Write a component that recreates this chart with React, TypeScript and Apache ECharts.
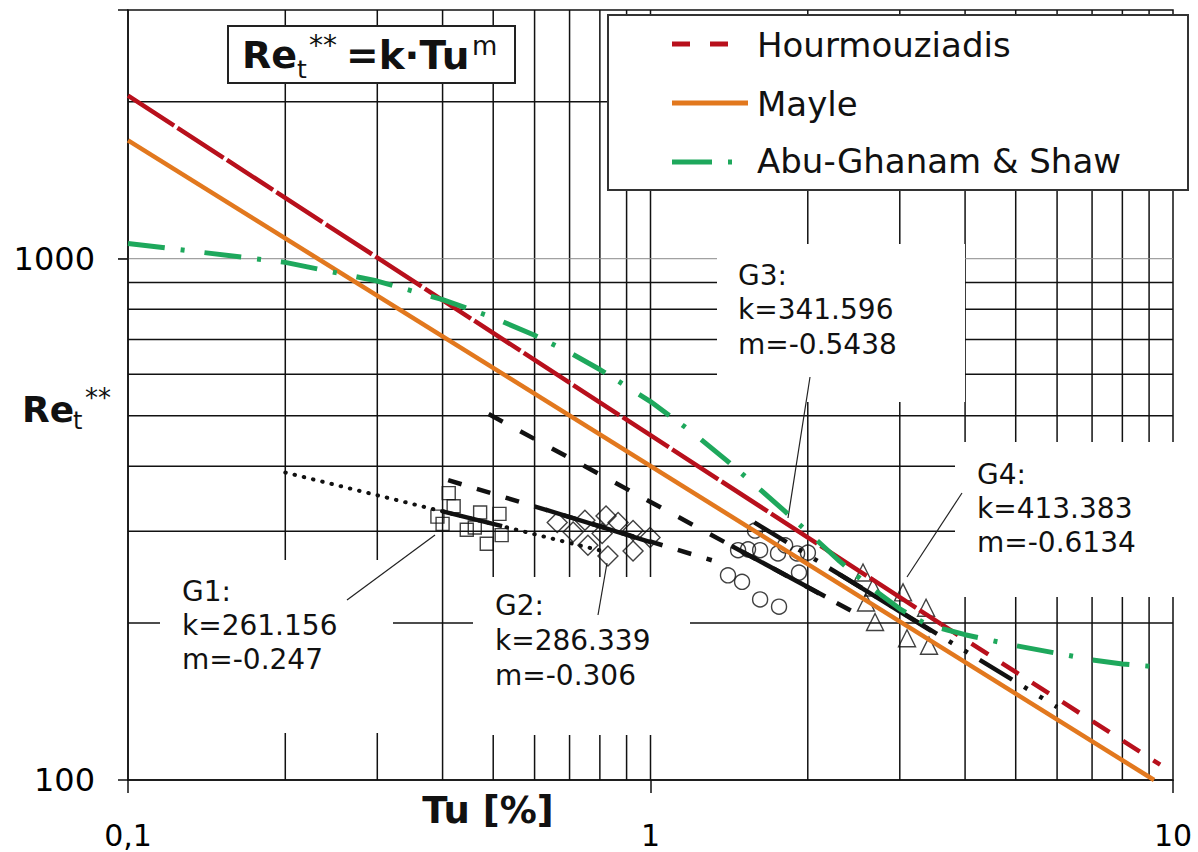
import React, { useEffect, useRef } from 'react';
import * as echarts from 'echarts';

// Axis ranges
const X_MIN = 0.1;
const X_MAX = 10;
const Y_MIN = 100;
const Y_MAX = 3000;

// Grid lines (log grid)
const gridXLines = [0.2, 0.3, 0.4, 0.5, 0.6, 0.7, 0.8, 0.9, 1, 2, 3, 4, 5, 6, 7, 8, 9];
const gridYLines = [200, 300, 400, 500, 600, 700, 800, 900, 2000];
const gridYMajor = [1000];

// Correlations
const hourTuA = [0.1, 3.6];
const hourReA = [2055, 199];
const hourTuB = [3.6, 9.45];
const hourReB = [199, 107];
const mayleTu = [0.1, 9.2];
const mayleRe = [1687, 100];
const agsTu = [0.1, 0.2, 0.3, 0.4, 0.5, 0.6, 0.7, 0.8, 1.0, 1.2, 1.4, 1.6, 1.8, 2.0, 2.3, 2.6, 3.0, 3.4, 3.7, 4.0, 5.0, 6.0, 7.0, 8.0, 9.2];
const agsRe = [1070, 984, 906, 835, 771, 713, 661, 613, 532, 465, 410, 365, 329, 299, 263, 237, 213, 198, 194, 190, 181, 175, 170, 167, 165];

// Regression lines
const g1DotTu = [0.2, 0.82];
const g1DotRe = [389, 274];
const g1SolTu = [0.4, 0.52];
const g1SolRe = [327.5, 307];
const g2DashTu = [0.41, 1.31];
const g2DashRe = [376, 264];
const g2SolTu = [0.63, 1.0];
const g2SolRe = [330, 286];
const g3DashTu = [0.49, 2.5];
const g3DashRe = [503.5, 207.5];
const g3SolTu = [1.43, 2.16];
const g3SolRe = [281, 225];
const g4DashTu = [1.58, 6.0];
const g4DashRe = [312, 138];
const g4SolTu = [2.3, 3.45];
const g4SolRe = [248, 193];

// Measurement points
const g1PtTu = [0.411, 0.42, 0.391, 0.4, 0.472, 0.514, 0.445, 0.461, 0.519, 0.486];
const g1PtRe = [355, 335, 320, 310, 326, 324, 302, 305, 295, 284];
const g2PtTu = [0.663, 0.711, 0.749, 0.759, 0.822, 0.808, 0.867, 0.829, 0.926, 0.926, 0.998];
const g2PtRe = [312, 299, 315, 282, 321, 297, 312, 269, 275, 301, 292];
const g3PtTu = [1.585, 1.471, 1.537, 1.621, 1.754, 1.81, 1.908, 2.001, 1.924, 1.407, 1.497, 1.621, 1.762];
const g3PtRe = [301, 276, 277, 276, 272, 282, 272, 273, 250, 247, 240, 222, 215];
const g4PtTu = [2.551, 2.666, 2.585, 2.69, 3.043, 3.368, 3.097, 3.412];
const g4PtRe = [250, 234, 219, 201, 229, 214, 187, 181];

// Texts
const legendNames = ['Hourmouziadis', 'Mayle', 'Abu-Ghanam & Shaw'];
const xTickLabels: Record<string, string> = { '0.1': '0,1', '1': '1', '10': '10' };
const yTickLabels: Record<string, string> = { '100': '100', '1000': '1000' };
const g1Text = 'G1:\nk=261.156\nm=-0.247';
const g2Text = 'G2:\nk=286.339\nm=-0.306';
const g3Text = 'G3:\nk=341.596\nm=-0.5438';
const g4Text = 'G4:\nk=413.383\nm=-0.6134';

const RED = '#B8101C';
const ORANGE = '#E2781E';
const GREEN = '#1EA85C';
const BLACK = '#111';
const FONT = 'DejaVu Sans';

const zip = (a: number[], b: number[]) => a.map((v, i) => [v, b[i]]);

function keyOf(v: number, map: Record<string, string>) {
  for (const k of Object.keys(map)) {
    if (Math.abs(v - Number(k)) / Number(k) < 1e-6) return map[k];
  }
  return '';
}

function lineSeries(name: string, data: number[][], color: string, width: number, type: any, z = 3, cap: any = 'butt') {
  return {
    name,
    type: 'line',
    data,
    symbol: 'none',
    showSymbol: false,
    silent: true,
    z,
    lineStyle: { color, width, type, cap },
  };
}

function scatterSeries(name: string, data: number[][], symbol: string, size: number) {
  return {
    name,
    type: 'scatter',
    data,
    symbol,
    symbolSize: size,
    silent: true,
    z: 2,
    itemStyle: { color: 'rgba(255,255,255,0)', borderColor: BLACK, borderWidth: 1.4 },
  };
}

export default function App() {
  const ref = useRef<HTMLDivElement>(null);
  useEffect(() => {
    if (!ref.current) return;
    const chart = echarts.init(ref.current, undefined, { renderer: 'svg' });
    const textStyle = (text: string, x: number, y: number, size: number, weight = 'normal', align = 'left', vAlign = 'middle', lineHeight?: number) => ({
      type: 'text',
      x,
      y,
      z: 10,
      silent: true,
      style: {
        text,
        fill: BLACK,
        font: `${weight} ${size}px "${FONT}"`,
        fontFamily: FONT,
        fontSize: size,
        fontWeight: weight,
        align,
        verticalAlign: vAlign,
        textAlign: align,
        textVerticalAlign: vAlign,
        lineHeight,
      },
    });
    const mask = (x: number, y: number, w: number, h: number) => ({
      type: 'rect',
      z: 1,
      silent: true,
      shape: { x, y, width: w, height: h },
      style: { fill: '#fff' },
    });
    const pointer = (x1: number, y1: number, x2: number, y2: number) => ({
      type: 'line',
      z: 4,
      silent: true,
      shape: { x1, y1, x2, y2 },
      style: { stroke: '#222', lineWidth: 1.2 },
    });
    const legLine = (x1: number, x2: number, y: number, color: string, dash?: number[]) => ({
      type: 'line',
      z: 9,
      silent: true,
      shape: { x1, y1: y, x2, y2: y },
      style: dash ? { stroke: color, lineWidth: 5, lineDash: dash, lineCap: 'butt' } : { stroke: color, lineWidth: 5, lineCap: 'butt' },
    });

    const option: any = {
      animation: false,
      backgroundColor: '#fff',
      grid: {
        left: 128,
        top: 10,
        right: 25,
        bottom: 72,
        containLabel: false,
        outerBoundsMode: 'none',
        show: true,
        borderColor: BLACK,
        borderWidth: 1.5,
        backgroundColor: 'rgba(0,0,0,0)',
      },
      xAxis: {
        type: 'log',
        logBase: 10,
        min: X_MIN,
        max: X_MAX,
        splitLine: { show: false },
        minorTick: { show: false },
        axisLine: { show: true, onZero: false, lineStyle: { color: BLACK, width: 1.5 } },
        axisTick: { show: true, length: 13, lineStyle: { color: BLACK, width: 1.5 } },
        axisLabel: {
          show: true,
          margin: 40,
          color: '#000',
          fontFamily: FONT,
          fontSize: 30,
          lineHeight: 30,
          showMinLabel: true,
          showMaxLabel: true,
          formatter: (v: number) => keyOf(v, xTickLabels),
        },
      },
      yAxis: {
        type: 'log',
        logBase: 10,
        min: Y_MIN,
        max: Y_MAX,
        splitLine: { show: false },
        minorTick: { show: false },
        axisLine: { show: true, onZero: false, lineStyle: { color: BLACK, width: 1.5 } },
        axisTick: { show: true, length: 10, lineStyle: { color: BLACK, width: 1.5 } },
        axisLabel: {
          show: true,
          margin: 33,
          color: '#000',
          fontFamily: FONT,
          fontSize: 32,
          formatter: (v: number) => keyOf(v, yTickLabels),
        },
      },
      series: [
        {
          name: 'gridX',
          type: 'custom',
          silent: true,
          z: 0,
          data: gridXLines.map((v) => [v, Y_MIN]),
          renderItem: (_p: any, api: any) => {
            const x = api.value(0);
            const a = api.coord([x, Y_MIN]);
            const b = api.coord([x, Y_MAX]);
            return { type: 'line', shape: { x1: a[0], y1: a[1], x2: b[0], y2: b[1] }, style: { stroke: BLACK, lineWidth: 1.5 } };
          },
        },
        {
          name: 'gridY',
          type: 'custom',
          silent: true,
          z: 0,
          data: gridYLines.map((v) => [X_MIN, v]),
          renderItem: (_p: any, api: any) => {
            const y = api.value(1);
            const a = api.coord([X_MIN, y]);
            const b = api.coord([X_MAX, y]);
            return { type: 'line', shape: { x1: a[0], y1: a[1], x2: b[0], y2: b[1] }, style: { stroke: BLACK, lineWidth: 1.5 } };
          },
        },
        {
          name: 'gridYMajor',
          type: 'custom',
          silent: true,
          z: 0,
          data: gridYMajor.map((v) => [X_MIN, v]),
          renderItem: (_p: any, api: any) => {
            const y = api.value(1);
            const a = api.coord([X_MIN, y]);
            const b = api.coord([X_MAX, y]);
            return { type: 'line', shape: { x1: a[0] - 10, y1: a[1], x2: b[0], y2: b[1] }, style: { stroke: '#8a8a8a', lineWidth: 1 } };
          },
        },
        scatterSeries('G1 data', zip(g1PtTu, g1PtRe), 'rect', 13),
        scatterSeries('G2 data', zip(g2PtTu, g2PtRe), 'diamond', 20),
        scatterSeries('G3 data', zip(g3PtTu, g3PtRe), 'circle', 15),
        scatterSeries('G4 data', zip(g4PtTu, g4PtRe), 'triangle', 17),
        lineSeries('G1 fit ext', zip(g1DotTu, g1DotRe), BLACK, 4, [0.5, 9], 3, 'round'),
        lineSeries('G1 fit', zip(g1SolTu, g1SolRe), BLACK, 4.5, 'solid'),
        lineSeries('G2 fit ext', zip(g2DashTu, g2DashRe), BLACK, 4.5, [14, 16]),
        lineSeries('G2 fit', zip(g2SolTu, g2SolRe), BLACK, 4.5, 'solid'),
        lineSeries('G3 fit ext', zip(g3DashTu, g3DashRe), BLACK, 4.5, [16, 20]),
        lineSeries('G3 fit', zip(g3SolTu, g3SolRe), BLACK, 4.5, 'solid'),
        lineSeries('G4 fit ext', zip(g4DashTu, g4DashRe), BLACK, 4.5, [38, 14, 4, 14, 4, 14]),
        lineSeries('G4 fit', zip(g4SolTu, g4SolRe), BLACK, 4.5, 'solid'),
        lineSeries('Mayle', zip(mayleTu, mayleRe), ORANGE, 4.5, 'solid', 4),
        lineSeries('Hourmouziadis', zip(hourTuA, hourReA), RED, 4.5, [55, 4], 5),
        lineSeries('Hourmouziadis ', zip(hourTuB, hourReB), RED, 4.5, [20, 16], 5),
        lineSeries('Abu-Ghanam & Shaw', zip(agsTu, agsRe), GREEN, 5, [37, 16, 4, 20], 6),
      ],
      graphic: {
        elements: [
          // white boxes behind the annotations
          mask(160, 560, 233, 173),
          mask(473, 577, 217, 158),
          mask(717, 244, 248, 158),
          mask(955, 442, 243, 155),
          pointer(347, 600, 435, 535),
          pointer(598, 615, 607, 563),
          pointer(810, 377, 788, 518),
          pointer(962, 493, 907, 577),
          textStyle(g1Text, 182, 574, 28, 'normal', 'left', 'top', 34),
          textStyle(g2Text, 495, 588, 28, 'normal', 'left', 'top', 35),
          textStyle(g3Text, 738, 258, 28, 'normal', 'left', 'top', 34.5),
          textStyle(g4Text, 977, 457, 28, 'normal', 'left', 'top', 34),
          // title box
          {
            type: 'rect',
            z: 8,
            silent: true,
            shape: { x: 228, y: 26, width: 287, height: 57 },
            style: { fill: '#fff', stroke: '#222', lineWidth: 2 },
          },
          textStyle('Re', 242, 55, 38, 'bold'),
          textStyle('t', 297, 69, 25),
          textStyle('**', 309, 45, 28),
          textStyle('=k·Tu', 346, 55, 39, 'bold'),
          textStyle('m', 472, 46, 26),
          // legend box
          {
            type: 'rect',
            z: 8,
            silent: true,
            shape: { x: 608, y: 15, width: 580, height: 175 },
            style: { fill: '#fff', stroke: '#333', lineWidth: 2 },
          },
          legLine(672, 728, 44, RED, [18, 20]),
          legLine(672, 748, 103, ORANGE),
          legLine(672, 732, 162, GREEN, [40, 16, 4, 20]),
          textStyle(legendNames[0], 757, 45, 34),
          textStyle(legendNames[1], 757, 104, 34),
          textStyle(legendNames[2], 757, 161, 34),
          // axis names
          textStyle('Re', 22, 409, 36, 'bold'),
          textStyle('t', 73, 421, 24),
          textStyle('**', 85, 398, 26),
          textStyle('Tu [%]', 488, 810, 37, 'bold', 'center'),
        ],
      },
    };
    chart.setOption(option);
    return () => chart.dispose();
  }, []);
  return <div ref={ref} style={{ position: 'absolute', left: 0, top: 0, width: 1198, height: 852 }} />;
}
